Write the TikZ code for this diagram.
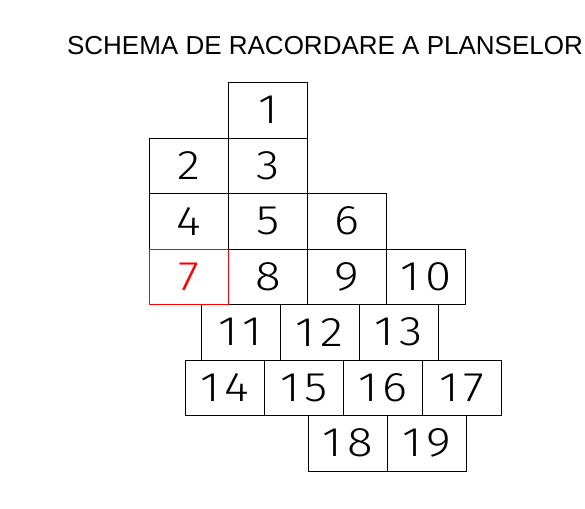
\documentclass[tikz,border=0pt]{standalone}
\usepackage{fontspec}
\setmainfont{Liberation Sans}
\newfontfamily\numfont{Fira Sans Light}[FakeStretch=1.15, LetterSpace=12]
\usepackage{xcolor}
\usepackage{tikz}
\usetikzlibrary{positioning}
\definecolor{planred}{HTML}{FF0000}

\begin{document}
\begin{tikzpicture}[x=0.75pt, y=-0.75pt,
  pl/.style={draw, line width=0.6pt, outer sep=0pt, inner sep=0pt,
    minimum width=59.25pt, minimum height=41.6pt,
    font=\fontsize{31}{31}\selectfont\numfont},
  plred/.style={pl, draw=planred, text=planred}]
\useasboundingbox (0,0) rectangle (585,509);
\node[font=\fontsize{19.5}{23}\selectfont](titlu) at (325,46){SCHEMA DE RACORDARE A PLANSELOR};

% primele plansi din fiecare rand
\foreach \st/\x/\y in {1/268/110.25, 2/189/165.75, 4/189/221.25, 8/268/276.75,
    11/240.5/332.25, 14/225/387.75, 18/348/443.25}
  {\node[pl](p\st) at (\x,\y){\st};}
\foreach \a/\b in {2/3, 4/5, 5/6, 8/9, 9/10, 11/12, 12/13, 14/15, 15/16, 16/17, 18/19}
  {\node[pl, right=0pt of p\a](p\b){\b};}
\node[plred, left=0pt of p8](p7){7};

\end{tikzpicture}
\end{document}
